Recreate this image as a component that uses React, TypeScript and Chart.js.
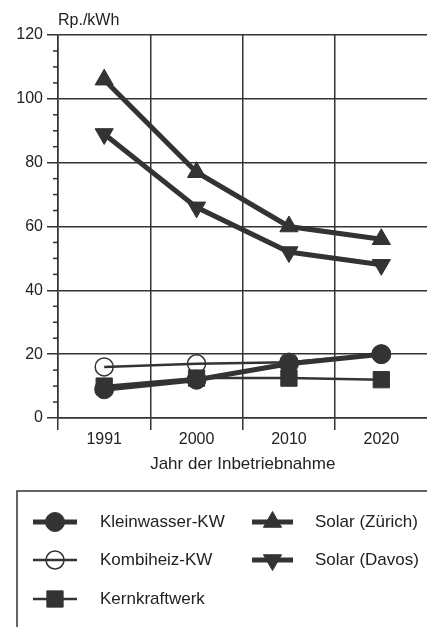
import React, { useEffect, useRef } from 'react';
import { Chart, registerables } from 'chart.js';

Chart.register(...registerables);

// ---- data ----
const years = ['1991', '2000', '2010', '2020'];
const kleinwasser = [9, 12, 17, 20];
const kombiheiz = [16, 17, 17.5, 20];
const kernkraft = [10, 12.5, 12.5, 12];
const solarZuerich = [106, 77, 60, 56];
const solarDavos = [89, 66, 52, 48];

const seriesLabels = ['Kleinwasser-KW', 'Kombiheiz-KW', 'Kernkraftwerk', 'Solar (Zürich)', 'Solar (Davos)'];
const yMin = 0;
const yMax = 120;
const yMajorStep = 20;
const yMinorStep = 5;
const yAxisTitle = 'Rp./kWh';
const xAxisTitle = 'Jahr der Inbetriebnahme';

const INK = '#333333';
const TEXT = '#222222';
const FONT = "'Liberation Sans', Arial, Helvetica, sans-serif";

// legend layout: [dataset index, column, row]
const legendLayout: [number, number, number][] = [
  [0, 0, 0],
  [3, 1, 0],
  [1, 0, 1],
  [4, 1, 1],
  [2, 0, 2],
];

function drawMarker(ctx: CanvasRenderingContext2D, style: string, rotation: number, r: number, x: number, y: number, fill: string, stroke: string, bw: number) {
  ctx.save();
  ctx.beginPath();
  if (style === 'circle') {
    ctx.arc(x, y, r, 0, Math.PI * 2);
  } else if (style === 'rect') {
    const s = r * Math.SQRT1_2;
    ctx.rect(x - s, y - s, 2 * s, 2 * s);
  } else if (style === 'triangle') {
    let rad = (rotation * Math.PI) / 180;
    ctx.moveTo(x + Math.sin(rad) * r, y - Math.cos(rad) * r);
    rad += (2 * Math.PI) / 3;
    ctx.lineTo(x + Math.sin(rad) * r, y - Math.cos(rad) * r);
    rad += (2 * Math.PI) / 3;
    ctx.lineTo(x + Math.sin(rad) * r, y - Math.cos(rad) * r);
    ctx.closePath();
  }
  ctx.fillStyle = fill;
  ctx.fill();
  ctx.lineWidth = bw;
  ctx.strokeStyle = stroke;
  ctx.stroke();
  ctx.restore();
}

const decorPlugin = {
  id: 'decor',
  afterDraw(chart: any) {
    const ctx: CanvasRenderingContext2D = chart.ctx;
    const y = chart.scales.y;
    const area = chart.chartArea;
    ctx.save();
    // minor ticks on the y axis
    ctx.strokeStyle = INK;
    ctx.lineWidth = 1.5;
    for (let v = yMin; v <= yMax; v += yMinorStep) {
      if (v % yMajorStep === 0) continue;
      const py = y.getPixelForValue(v);
      ctx.beginPath();
      ctx.moveTo(area.left - 5, py);
      ctx.lineTo(area.left, py);
      ctx.stroke();
    }
    // y axis title at top
    ctx.fillStyle = TEXT;
    ctx.font = `16px ${FONT}`;
    ctx.textAlign = 'left';
    ctx.textBaseline = 'alphabetic';
    ctx.fillText(yAxisTitle, area.left, 25);

    // legend box
    const bx = 17;
    const by = 491;
    ctx.lineWidth = 1.5;
    ctx.strokeStyle = INK;
    ctx.strokeRect(bx, by, 600, 400);

    const colSym = [33, 252];
    const colText = [100, 315];
    const rowY = [522, 560, 599];
    const symW = [44, 41];
    legendLayout.forEach(([di, col, row]) => {
      const ds = chart.data.datasets[di];
      const ly = rowY[row];
      const x0 = colSym[col];
      const x1 = x0 + symW[col];
      ctx.beginPath();
      ctx.lineWidth = ds.borderWidth;
      ctx.strokeStyle = ds.borderColor;
      ctx.moveTo(x0, ly);
      ctx.lineTo(x1, ly);
      ctx.stroke();
      drawMarker(ctx, ds.pointStyle, ds.pointRotation || 0, ds.pointRadius, (x0 + x1) / 2, ly, ds.pointBackgroundColor, ds.pointBorderColor, ds.pointBorderWidth);
      ctx.fillStyle = TEXT;
      ctx.font = `17px ${FONT}`;
      ctx.textAlign = 'left';
      ctx.textBaseline = 'middle';
      ctx.fillText(ds.label, colText[col], ly);
    });
    ctx.restore();
  },
};

export default function App() {
  const ref = useRef<HTMLCanvasElement>(null);

  useEffect(() => {
    if (!ref.current) return;
    Chart.defaults.font.family = FONT;
    const mk = (label: string, data: number[], bw: number, style: string, radius: number, rot: number, fill: string, pbw: number) => ({
      label,
      data,
      borderColor: INK,
      borderWidth: bw,
      pointStyle: style,
      pointRadius: radius,
      pointRotation: rot,
      pointBackgroundColor: fill,
      pointBorderColor: INK,
      pointBorderWidth: pbw,
      pointHoverRadius: radius,
      tension: 0,
      fill: false,
    });
    const chart = new Chart(ref.current, {
      type: 'line',
      data: {
        labels: years,
        datasets: [
          mk(seriesLabels[0], kleinwasser, 5, 'circle', 9.5, 0, INK, 1),
          mk(seriesLabels[1], kombiheiz, 2.5, 'circle', 9, 0, 'rgba(255,255,255,0)', 1.5),
          mk(seriesLabels[2], kernkraft, 2.5, 'rect', 11.5, 0, INK, 1),
          mk(seriesLabels[3], solarZuerich, 5, 'triangle', 10.5, 0, INK, 1),
          mk(seriesLabels[4], solarDavos, 5, 'triangle', 10.5, 180, INK, 1),
        ] as any,
      },
      options: {
        responsive: false,
        animation: false,
        devicePixelRatio: 1,
        layout: { padding: { top: 35, right: 6, bottom: 139, left: 0 } },
        plugins: {
          legend: { display: false },
          tooltip: { enabled: false },
          title: { display: false },
        },
        scales: {
          x: {
            type: 'category',
            offset: true,
            grid: { offset: true, color: INK, lineWidth: 1.5, tickLength: 12, drawTicks: true },
            border: { display: true, color: INK, width: 1.5 },
            ticks: { color: TEXT, font: { size: 16 }, padding: 0, maxRotation: 0 },
            title: { display: true, text: xAxisTitle, color: TEXT, font: { size: 17 }, padding: { top: 4, bottom: 13 } },
            afterFit: (s: any) => { s.height = 70; },
          },
          y: {
            min: yMin,
            max: yMax,
            ticks: { stepSize: yMajorStep, color: TEXT, font: { size: 16 }, padding: 4 },
            grid: { color: INK, lineWidth: 1.5, tickLength: 11 },
            border: { display: true, color: INK, width: 1.5 },
            afterFit: (s: any) => { s.width = 58; },
          },
        },
      },
      plugins: [decorPlugin],
    } as any);
    return () => chart.destroy();
  }, []);

  return (
    <div style={{ position: 'fixed', left: 0, top: 0, width: 427, height: 627, overflow: 'hidden', background: '#fff' }}>
      <canvas ref={ref} width={440} height={627} style={{ display: 'block' }} />
    </div>
  );
}
